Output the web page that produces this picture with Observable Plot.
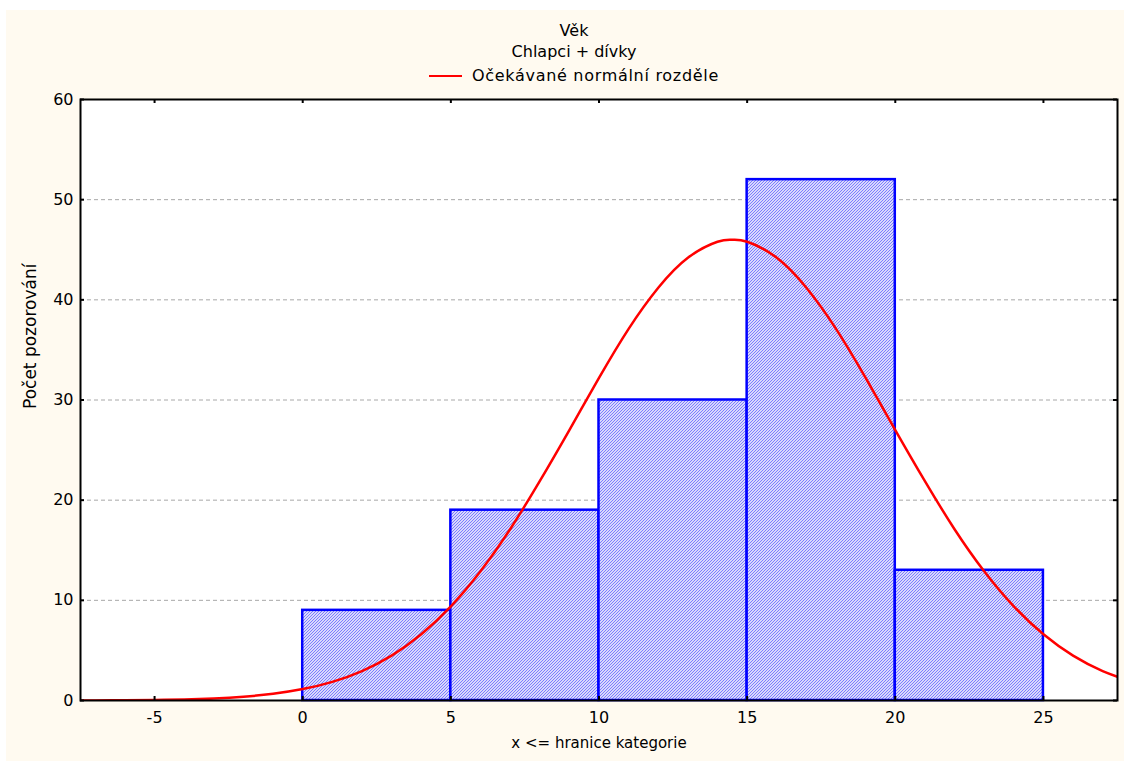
<!DOCTYPE html>
<html>
<head>
<meta charset="utf-8">
<script src="https://cdn.jsdelivr.net/npm/d3@7"></script>
<script src="https://cdn.jsdelivr.net/npm/@observablehq/plot@0.6"></script>
<style>
  body { margin: 0; background: #ffffff; font-family: "DejaVu Sans", sans-serif; }
  #page { position: absolute; left: 6px; top: 10px; width: 1118px; height: 751px; background: #fffaf0; overflow: hidden; }
  .t { position: absolute; left: 0; width: 1136px; text-align: center; font-size: 16px; line-height: 20px; color: #000; white-space: nowrap; }
  .legend { display: flex; justify-content: center; align-items: center; }
  .swatch { display: inline-block; width: 33px; height: 0; border-top: 2px solid #ff0000; margin-right: 10px; }
  #chart { position: absolute; left: 0; top: 80px; }
</style>
</head>
<body>
<div id="page">
  <div class="t" id="title" style="top:11px"></div>
  <div class="t" id="subtitle" style="top:32px"></div>
  <div class="t legend" id="legend" style="top:56px"></div>
  <div id="chart"></div>
</div>
<script>
// ---- data ----
const titleText = "Věk";
const subtitleText = "Chlapci + dívky";
const legendText = "Očekávané normální rozděle";
const xLabel = "x <= hranice kategorie";
const yLabel = "Počet pozorování";

const binStart = [0, 5, 10, 15, 20];
const binEnd   = [5, 10, 15, 20, 25];
const counts   = [9, 19, 30, 52, 13];

// expected normal curve
const curveX = [-8, -7, -6, -5, -4, -3, -2, -1, 0, 1, 2, 3, 4, 5, 6, 7, 8, 9, 10, 11, 12, 13, 14, 14.5, 15, 16, 17, 18, 19, 20, 21, 22, 23, 24, 25, 26, 27, 28];
const curveY = [0.01, 0.01, 0.03, 0.06, 0.11, 0.21, 0.38, 0.67, 1.14, 1.86, 2.94, 4.48, 6.61, 9.4, 12.9, 17.1, 21.9, 27.0, 32.2, 37.1, 41.2, 44.2, 45.8, 46.0, 45.8, 44.2, 41.2, 37.1, 32.2, 27.0, 21.9, 17.1, 12.9, 9.4, 6.61, 4.48, 2.94, 1.86];

const xTicks = [-5, 0, 5, 10, 15, 20, 25];
const yTicks = [0, 10, 20, 30, 40, 50, 60];
const gridTicks = [10, 20, 30, 40, 50];

// ---- header ----
document.getElementById("title").textContent = titleText;
document.getElementById("subtitle").textContent = subtitleText;
const leg = document.getElementById("legend");
const sw = document.createElement("span"); sw.className = "swatch";
const lt = document.createElement("span"); lt.textContent = legendText; lt.style.letterSpacing = "0.7px";
leg.appendChild(sw); leg.appendChild(lt);

// ---- chart ----
const bars = binStart.map((s, i) => ({x1: s, x2: binEnd[i], y: counts[i]}));
const curve = curveX.map((x, i) => ({x, y: curveY[i]}));

const W = 1118, H = 671, ML = 74, MR = 7, MT = 9, MB = 61;
const FW = W - ML - MR, FH = H - MT - MB;
const tick = 4;
const fmt = d => String(d);

const svg = Plot.plot({
  width: W, height: H,
  marginLeft: ML, marginRight: MR, marginTop: MT, marginBottom: MB,
  x: {domain: [-7.5, 27.5]},
  y: {domain: [0, 60]},
  style: {background: "transparent", fontFamily: "'DejaVu Sans', sans-serif", fontSize: "16px", color: "black"},
  marks: [
    Plot.frame({fill: "white", stroke: null}),
    Plot.gridY(gridTicks, {stroke: "#a8a8a8", strokeOpacity: 1, strokeDasharray: "4,3"}),
    Plot.rectY(bars, {x1: "x1", x2: "x2", y: "y", fill: "url(#hatch)", stroke: "#0000ff", strokeWidth: 2.5}),
    Plot.line(curve, {x: "x", y: "y", stroke: "#ff0000", strokeWidth: 2.5, curve: "natural", clip: true}),
    Plot.frame({stroke: "black", strokeWidth: 2}),
    Plot.ruleX(xTicks, {x: d => d, insetTop: FH - tick, stroke: "black", strokeWidth: 2}),
    Plot.ruleX(xTicks, {x: d => d, insetBottom: FH - tick, stroke: "black", strokeWidth: 2}),
    Plot.ruleY(yTicks, {y: d => d, insetRight: FW - tick, stroke: "black", strokeWidth: 2}),
    Plot.ruleY(yTicks, {y: d => d, insetLeft: FW - tick, stroke: "black", strokeWidth: 2}),
    Plot.axisX(xTicks, {tickSize: 0, tickPadding: 11, label: null, fontSize: 16, tickFormat: fmt}),
    Plot.axisY(yTicks, {tickSize: 0, tickPadding: 7, label: null, fontSize: 16, tickFormat: fmt}),
    Plot.text([xLabel], {frameAnchor: "bottom", dy: 47, text: d => d, fontSize: 15}),
    Plot.text([yLabel], {frameAnchor: "left", dx: -50, dy: 9, rotate: -90, text: d => d, fontSize: 17})
  ]
});

const defs = document.createElementNS("http://www.w3.org/2000/svg", "defs");
defs.innerHTML = '<pattern id="hatch" patternUnits="userSpaceOnUse" width="3" height="3">' +
  '<rect width="3" height="3" fill="#d8d8fc"/>' +
  '<path d="M-1,1 l2,-2 M0,3 l3,-3 M2,4 l2,-2" stroke="#5555ff" stroke-width="0.7"/></pattern>';
svg.insertBefore(defs, svg.firstChild);

document.getElementById("chart").appendChild(svg);
</script>
</body>
</html>
